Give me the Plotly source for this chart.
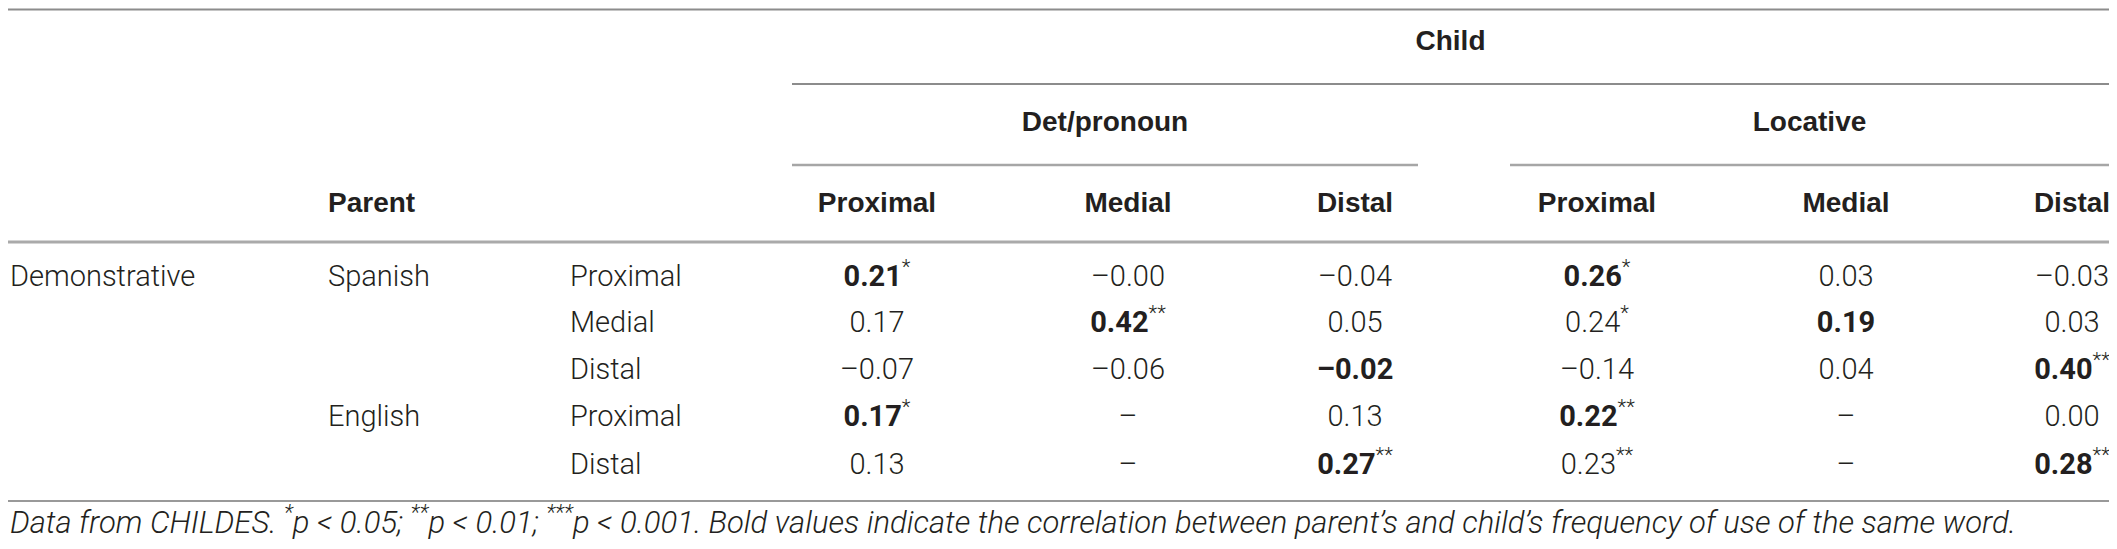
import plotly.graph_objects as go

# table content
group_title = "Child"
child_groups = ["Det/pronoun", "Locative"]
child_forms = ["Proximal", "Medial", "Distal", "Proximal", "Medial", "Distal"]

row_category = ["Demonstrative", "", "", "", ""]
parent_lang = ["Spanish", "", "", "English", ""]
parent_form = ["Proximal", "Medial", "Distal", "Proximal", "Distal"]

# correlations (None = not available), one list per parent row
values = [
    [0.21, -0.00, -0.04, 0.26, 0.03, -0.03],
    [0.17, 0.42, 0.05, 0.24, 0.19, 0.03],
    [-0.07, -0.06, -0.02, -0.14, 0.04, 0.40],
    [0.17, None, 0.13, 0.22, None, 0.00],
    [0.13, None, 0.27, 0.23, None, 0.28],
]
stars = [
    ["*", "", "", "*", "", ""],
    ["", "**", "", "*", "", ""],
    ["", "", "", "", "", "**"],
    ["*", "", "", "**", "", ""],
    ["", "", "**", "**", "", "**"],
]

footnote = ("<i>Data from CHILDES. <sup>*</sup>p &lt; 0.05; <sup>**</sup>p &lt; 0.01; "
            "<sup>***</sup>p &lt; 0.001. Bold values indicate the correlation between parent’s "
            "and child’s frequency of use of the same word.</i>")

# layout: axes map straight to page pixels of the 2117 x 549 window
# (the page body keeps its default 8px margin, so the figure sits inside it)
W, H, PAD = 2117, 549, 8
col_x = [877, 1128, 1355, 1597, 1846, 2072]
group_x = [(792, 1418), (1510, 2109)]
label_x = [10, 328, 570]
y_child, y_group, y_head = 43, 124, 205
row_y = [279, 325, 372, 419, 467]
y_foot = 525

ink = "#231f20"
body = dict(family="Roboto, 'Liberation Sans', Arial", size=29, color=ink, weight=300)
bold = dict(family="'Liberation Sans', Arial", size=28, color=ink, weight="bold")


def fmt(v, s, is_bold):
    if v is None:
        return "–"
    t = f"{v:.2f}".replace("-", "–")
    if is_bold:
        t = f"<b>{t}</b>"
    if s:
        t += f"<sup>{s}</sup>"
    return t


fig = go.Figure()

# header texts
fig.add_trace(go.Scatter(
    x=[(group_x[0][0] + group_x[1][1]) / 2] + [(a + b) / 2 for a, b in group_x] + col_x,
    y=[y_child] + [y_group] * 2 + [y_head] * 6,
    text=[group_title] + child_groups + child_forms,
    mode="text", textposition="middle center", textfont=bold, cliponaxis=False,
    hoverinfo="skip", showlegend=False))
fig.add_trace(go.Scatter(
    x=[label_x[1]], y=[y_head], text=["Parent"],
    mode="text", textposition="middle right", textfont=bold, cliponaxis=False,
    hoverinfo="skip", showlegend=False))

# row labels
for lx, labels in zip(label_x, [row_category, parent_lang, parent_form]):
    fig.add_trace(go.Scatter(
        x=[lx] * len(labels), y=row_y, text=labels,
        mode="text", textposition="middle right", textfont=body, cliponaxis=False,
        hoverinfo="skip", showlegend=False))

# cells
cx, cy, ct = [], [], []
for i, row in enumerate(values):
    for j, v in enumerate(row):
        cx.append(col_x[j])
        cy.append(row_y[i])
        ct.append(fmt(v, stars[i][j], parent_form[i] == child_forms[j]))
fig.add_trace(go.Scatter(
    x=cx, y=cy, text=ct, mode="text", textposition="middle center",
    textfont=body, cliponaxis=False, hoverinfo="skip", showlegend=False))

# footnote
fig.add_trace(go.Scatter(
    x=[label_x[0]], y=[y_foot], text=[footnote], mode="text",
    textposition="middle right", cliponaxis=False,
    textfont=dict(family="Roboto, 'Liberation Sans', Arial", size=31, color=ink, weight=300),
    hoverinfo="skip", showlegend=False))

# rules
rules = [
    (PAD, W - PAD, 9.5, "#8c8c8c", 2),
    (group_x[0][0], W - PAD, 84, "#8c8c8c", 2),
    (group_x[0][0], group_x[0][1], 165, "#a6a6a6", 2.5),
    (group_x[1][0], group_x[1][1], 165, "#a6a6a6", 2.5),
    (PAD, W - PAD, 242, "#aaaaaa", 3),
    (PAD, W - PAD, 501, "#777777", 1.5),
]
for x0, x1, y, c, w in rules:
    fig.add_shape(type="line", x0=x0, x1=x1, y0=y, y1=y, xref="x", yref="y",
                  line=dict(color=c, width=w))

fig.update_xaxes(range=[PAD, W - PAD], visible=False, fixedrange=True)
fig.update_yaxes(range=[H - PAD, PAD], visible=False, fixedrange=True)
fig.update_layout(
    width=W - 2 * PAD, height=H - 2 * PAD,
    margin=dict(l=0, r=0, t=0, b=0),
    plot_bgcolor="white", paper_bgcolor="white",
)

fig.write_html("out.html")
